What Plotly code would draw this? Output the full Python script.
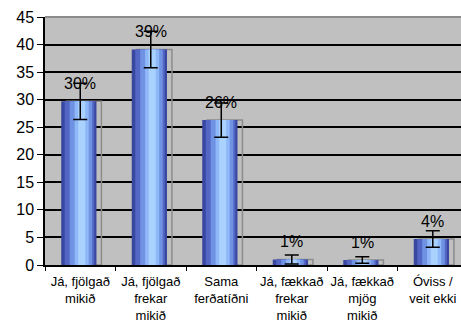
import plotly.graph_objects as go

categories = ["Já, fjölgað<br>mikið", "Já, fjölgað<br>frekar<br>mikið", "Sama<br>ferðatíðni",
              "Já, fækkað<br>frekar<br>mikið", "Já, fækkað<br>mjög<br>mikið", "Óviss /<br>veit ekki"]
values = [29.7, 39.1, 26.3, 1.0, 0.9, 4.7]
errors = [3.3, 3.3, 3.1, 0.8, 0.6, 1.5]
labels = ["30%", "39%", "26%", "1%", "1%", "4%"]

fig = go.Figure()

# gray back frame of the 3D bars
fig.add_trace(go.Bar(
    x=categories, y=values, width=0.5, offset=-0.2,
    marker=dict(color="rgba(0,0,0,0)", line=dict(color="#8c8c8c", width=1.5)),
    hoverinfo="skip", showlegend=False
))

# fake cylinder gradient: overlaid bars getting lighter toward the centre
layers = [(0.5, -0.27, "#3a47a0"), (0.42, -0.22, "#5366c4"), (0.32, -0.15, "#6f93e2"),
          (0.2, -0.08, "#8fb8f8"), (0.1, -0.03, "#a9d2ff")]
for w, off, col in layers:
    fig.add_trace(go.Bar(
        x=categories, y=values, width=w, offset=off,
        marker=dict(color=col, line=dict(width=0)),
        hoverinfo="skip", showlegend=False
    ))

# error bars
fig.add_trace(go.Scatter(
    x=categories, y=values, mode="markers",
    marker=dict(size=1, color="rgba(0,0,0,0)"),
    error_y=dict(type="data", array=errors, color="black", thickness=1.5, width=7),
    showlegend=False, hoverinfo="skip"
))

for c, v, t in zip(categories, values, labels):
    fig.add_annotation(x=c, y=v, text=t, showarrow=False, yanchor="middle", yshift=18,
                       font=dict(size=16, color="black"))

fig.update_layout(
    width=461, height=322,
    margin=dict(l=45, r=0, t=17, b=57),
    paper_bgcolor="white", plot_bgcolor="#c0c0c0",
    barmode="overlay",
    font=dict(family="Liberation Sans, Arial, sans-serif", color="black"),
    xaxis=dict(range=[-0.5, 5.4], showline=True, linecolor="black", linewidth=1.5,
               ticks="outside", tickson="boundaries", ticklen=4, tickcolor="black",
               tickfont=dict(size=13), tickangle=0, automargin=False,
               ticklabelstandoff=4, showgrid=False),
    yaxis=dict(range=[0, 45], dtick=5, showline=True, linecolor="black", linewidth=1.5,
               ticks="outside", ticklen=6, tickcolor="black", tickfont=dict(size=16),
               automargin=False, showgrid=True, gridcolor="black", gridwidth=1.5,
               zeroline=False),
)
fig.add_shape(type="line", xref="paper", yref="paper", x0=0, x1=1, y0=1, y1=1,
              line=dict(color="#8c8c8c", width=2))

fig.write_html("out.html", config={"displayModeBar": False},
               post_script="document.body.style.margin='0';")
